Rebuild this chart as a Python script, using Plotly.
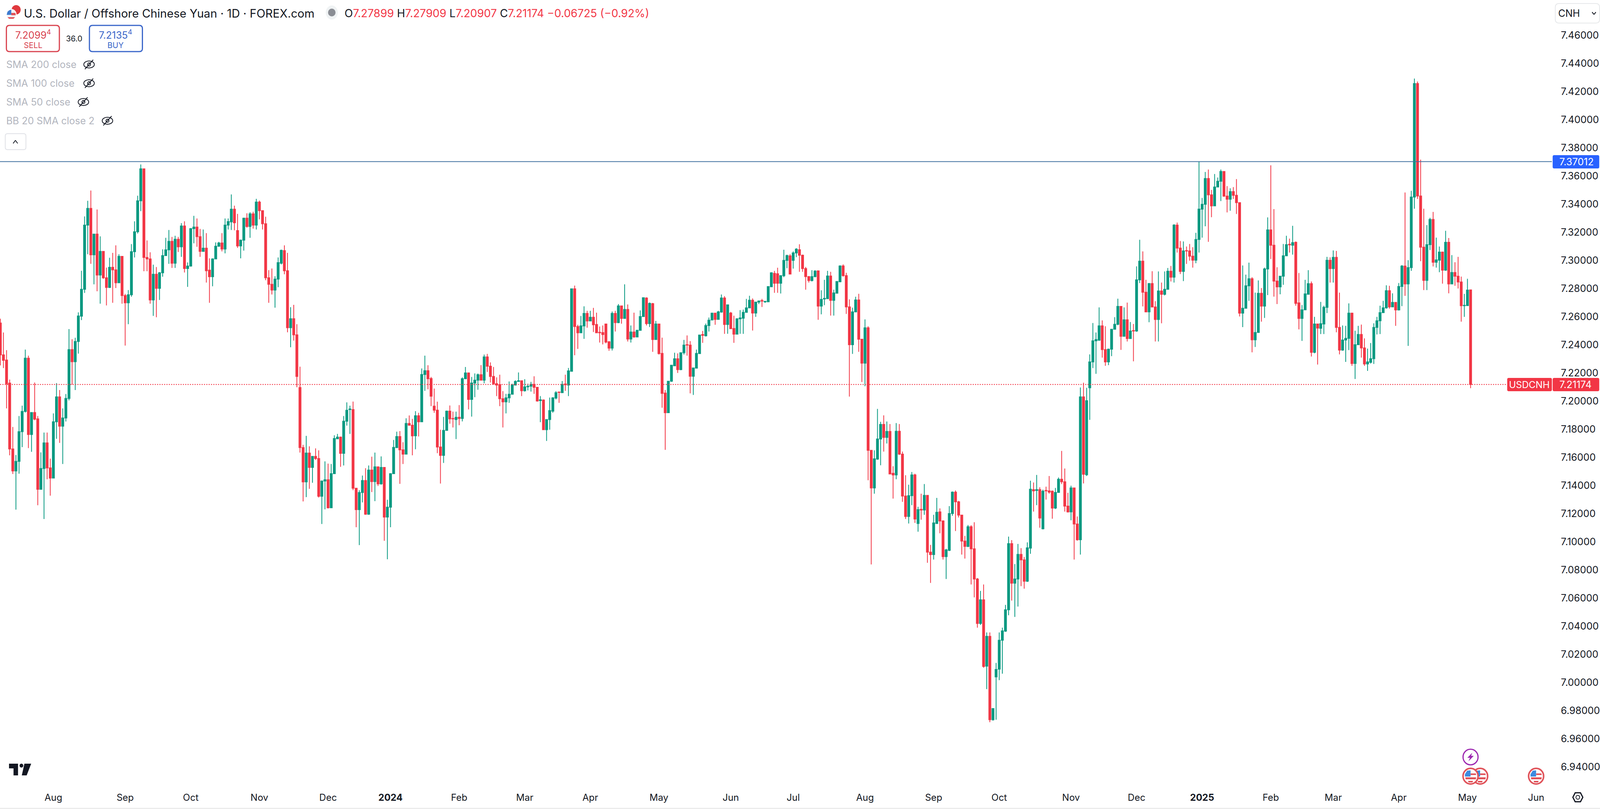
import plotly.graph_objects as go

W = 4258
H = 2070
PAGE_W = 4096  # the browser tops out at this width

# daily candles (USD/CNH, FOREX.com)
opens = [
7.2554,7.2328,7.2291,7.2127,7.1659,7.1503,7.1571,7.1782,7.1926,7.2304,
7.1762,7.1918,7.1873,7.1372,7.1520,7.1702,7.1524,7.1452,7.1852,7.2029,
7.1821,7.1879,7.2018,7.2365,7.2279,7.2423,7.2603,7.2794,7.3250,7.3369,
7.3039,7.3186,7.2895,7.3063,7.2876,7.2807,7.2950,7.2932,7.2840,7.3028,
7.2749,7.2698,7.2755,7.3061,7.3203,7.3423,7.3650,7.3020,7.3010,7.2718,
7.2901,7.2801,7.2911,7.3033,7.3074,7.3135,7.2979,7.3149,7.3096,7.3244,
7.2942,7.2959,7.3225,7.3236,7.3168,7.3063,7.3086,7.2930,7.2883,7.3010,
7.3100,7.3123,7.3080,7.3250,7.3273,7.3363,7.3211,7.3102,7.3143,7.3299,
7.3240,7.3330,7.3250,7.3414,7.3353,7.3260,7.2876,7.2829,7.2788,7.2866,
7.2979,7.3069,7.2926,7.2521,7.2585,7.2470,7.2096,7.1669,7.1425,7.1630,
7.1528,7.1606,7.1591,7.1323,7.1431,7.1440,7.1241,7.1483,7.1731,7.1743,
7.1628,7.1856,7.1939,7.1939,7.1380,7.1228,7.1349,7.1435,7.1195,7.1509,
7.1427,7.1532,7.1411,7.1528,7.1175,7.1245,7.1483,7.1669,7.1747,7.1653,
7.1622,7.1840,7.1828,7.1753,7.1895,7.1852,7.2188,7.2215,7.2160,7.1963,
7.1935,7.1673,7.1613,7.1791,7.1928,7.1876,7.1868,7.1884,7.1876,7.2158,
7.2199,7.2011,7.2128,7.2148,7.2187,7.2148,7.2313,7.2247,7.2174,7.2123,
7.2117,7.2016,7.1994,7.2022,7.2048,7.2113,7.2139,7.2144,7.2073,7.2101,
7.2105,7.2118,7.2097,7.2003,7.2007,7.1796,7.1868,7.1928,7.2021,7.2064,
7.2059,7.2121,7.2113,7.2211,7.2797,7.2529,7.2485,7.2533,7.2622,7.2569,
7.2595,7.2544,7.2488,7.2486,7.2547,7.2421,7.2376,7.2622,7.2557,7.2676,
7.2587,7.2651,7.2440,7.2490,7.2455,7.2502,7.2600,7.2732,7.2550,7.2692,
7.2437,7.2547,7.2338,7.2056,7.1917,7.2140,7.2250,7.2300,7.2223,7.2343,
7.2400,7.2397,7.2176,7.2233,7.2337,7.2472,7.2463,7.2536,7.2576,7.2624,
7.2580,7.2632,7.2732,7.2544,7.2625,7.2515,7.2475,7.2584,7.2588,7.2630,
7.2662,7.2716,7.2625,7.2703,7.2714,7.2705,7.2705,7.2812,7.2907,7.2904,
7.2837,7.2890,7.2999,7.3031,7.2999,7.3052,7.3075,7.3036,7.2941,7.2884,
7.2856,7.2884,7.2925,7.2674,7.2725,7.2727,7.2888,7.2715,7.2766,7.2847,
7.2960,7.2891,7.2669,7.2400,7.2633,7.2718,7.2439,7.2269,7.2520,7.1649,
7.1382,7.1587,7.1730,7.1833,7.1741,7.1783,7.1486,7.1474,7.1785,7.1622,
7.1324,7.1179,7.1327,7.1474,7.1129,7.1230,7.1225,7.1329,7.0926,7.0908,
7.1129,7.1212,7.1147,7.0894,7.0938,7.1200,7.1352,7.1283,7.1189,7.1004,
7.0967,7.1106,7.0949,7.0735,7.0419,7.0587,7.0115,7.0327,6.9735,7.0039,
7.0094,7.0299,7.0364,7.0516,7.0986,7.0705,7.0735,7.0910,7.0871,7.0719,
7.0954,7.1370,7.1364,7.1370,7.1092,7.1364,7.1361,7.1359,7.1239,7.1350,
7.1444,7.1426,7.1253,7.1212,7.1382,7.1126,7.1014,7.2029,7.1476,7.2094,
7.2278,7.2428,7.2432,7.2534,7.2365,7.2278,7.2368,7.2510,7.2545,7.2672,
7.2460,7.2577,7.2444,7.2501,7.2497,7.2861,7.2994,7.2773,7.2633,7.2835,
7.2668,7.2579,7.2782,7.2758,7.2794,7.2922,7.2880,7.3250,7.3087,7.2921,
7.3069,7.3067,7.3029,7.3001,7.3148,7.3363,7.3398,7.3581,7.3465,7.3387,
7.3521,7.3562,7.3631,7.3456,7.3434,7.3488,7.3462,7.3410,7.2624,7.2659,
7.2819,7.2869,7.2435,7.2487,7.2765,7.2674,7.2938,7.3216,7.3107,7.2852,
7.2811,7.2887,7.3032,7.3114,7.3107,7.3128,7.2697,7.2587,7.2648,7.2758,
7.2834,7.2346,7.2547,7.2517,7.2547,7.2665,7.3000,7.2941,7.3021,7.2523,
7.2362,7.2433,7.2445,7.2624,7.2267,7.2400,7.2473,7.2377,7.2263,7.2275,
7.2301,7.2523,7.2570,7.2628,7.2662,7.2784,7.2669,7.2701,7.2647,7.2814,
7.2959,7.2832,7.2948,7.3449,7.4256,7.3457,7.3093,7.2857,7.3111,7.3290,
7.2986,7.3001,7.3058,7.2930,7.3128,7.2832,7.2913,7.2887,7.2846,7.2677,
7.2678,7.27899]
highs = [
7.2585,7.2487,7.2361,7.2152,7.1815,7.1616,7.1893,7.1967,7.2365,7.2322,
7.1918,7.2131,7.1893,7.1635,7.1776,7.1776,7.1590,7.1912,7.2127,7.2078,
7.1947,7.2049,7.2511,7.2439,7.2449,7.2630,7.2926,7.3312,7.3423,7.3496,
7.3186,7.3361,7.3170,7.3063,7.2948,7.3018,7.3053,7.3106,7.3043,7.3028,
7.2761,7.2788,7.3115,7.3277,7.3459,7.3681,7.3650,7.3141,7.3057,7.2969,
7.2952,7.2917,7.3078,7.3160,7.3215,7.3166,7.3174,7.3166,7.3264,7.3277,
7.2985,7.3229,7.3316,7.3297,7.3223,7.3219,7.3193,7.3014,7.3014,7.3127,
7.3131,7.3193,7.3297,7.3297,7.3468,7.3388,7.3330,7.3147,7.3303,7.3334,
7.3342,7.3345,7.3437,7.3424,7.3355,7.3310,7.2930,7.2942,7.2887,7.3020,
7.3076,7.3106,7.3053,7.2667,7.2683,7.2546,7.2244,7.1688,7.1752,7.1678,
7.1606,7.1663,7.1649,7.1435,7.1571,7.1555,7.1552,7.1756,7.1766,7.1747,
7.1893,7.1990,7.1967,7.1996,7.1380,7.1366,7.1470,7.1522,7.1542,7.1604,
7.1633,7.1532,7.1606,7.1528,7.1298,7.1487,7.1723,7.1782,7.1786,7.1707,
7.1877,7.1897,7.1873,7.1928,7.1916,7.2231,7.2322,7.2254,7.2171,7.2088,
7.1995,7.1796,7.1887,7.1932,7.1968,7.1924,7.1924,7.1971,7.2168,7.2242,
7.2203,7.2171,7.2196,7.2195,7.2255,7.2330,7.2335,7.2274,7.2242,7.2168,
7.2187,7.2070,7.2051,7.2139,7.2123,7.2147,7.2203,7.2144,7.2155,7.2123,
7.2136,7.2176,7.2097,7.2035,7.2011,7.1868,7.2024,7.2027,7.2070,7.2064,
7.2142,7.2187,7.2235,7.2797,7.2820,7.2542,7.2604,7.2673,7.2641,7.2641,
7.2662,7.2628,7.2529,7.2537,7.2549,7.2426,7.2636,7.2641,7.2689,7.2676,
7.2829,7.2686,7.2537,7.2628,7.2506,7.2644,7.2737,7.2737,7.2700,7.2697,
7.2569,7.2547,7.2450,7.2078,7.2142,7.2255,7.2343,7.2338,7.2343,7.2434,
7.2466,7.2426,7.2235,7.2365,7.2469,7.2498,7.2550,7.2593,7.2628,7.2624,
7.2641,7.2757,7.2745,7.2683,7.2633,7.2606,7.2588,7.2646,7.2649,7.2726,
7.2748,7.2729,7.2705,7.2711,7.2726,7.2708,7.2813,7.2915,7.2925,7.2947,
7.2891,7.3075,7.3040,7.3044,7.3063,7.3086,7.3114,7.3040,7.2953,7.2888,
7.2930,7.2930,7.2925,7.2787,7.2861,7.2925,7.2918,7.2791,7.2849,7.2964,
7.2971,7.2911,7.2722,7.2663,7.2741,7.2762,7.2439,7.2580,7.2531,7.1649,
7.1649,7.1944,7.1852,7.1898,7.1854,7.1836,7.1536,7.1843,7.1836,7.1640,
7.1472,7.1405,7.1495,7.1483,7.1248,7.1341,7.1410,7.1329,7.0977,7.1191,
7.1311,7.1237,7.1152,7.0949,7.1253,7.1357,7.1364,7.1290,7.1191,7.1041,
7.1119,7.1117,7.1138,7.0742,7.0650,7.0696,7.0355,7.0355,6.9814,7.0138,
7.0355,7.0389,7.0551,7.1036,7.1011,7.0841,7.0984,7.0954,7.0891,7.0995,
7.1433,7.1421,7.1474,7.1387,7.1370,7.1391,7.1467,7.1364,7.1382,7.1456,
7.1645,7.1520,7.1347,7.1398,7.1382,7.1179,7.2096,7.2130,7.2094,7.2331,
7.2554,7.2487,7.2665,7.2573,7.2531,7.2372,7.2510,7.2596,7.2727,7.2672,
7.2665,7.2699,7.2561,7.2547,7.2957,7.3146,7.3063,7.2861,7.2838,7.2922,
7.2710,7.2921,7.2842,7.2921,7.2945,7.2960,7.3257,7.3268,7.3137,7.3134,
7.3098,7.3116,7.3093,7.3195,7.3701,7.3443,7.3628,7.3645,7.3500,7.3613,
7.3588,7.3645,7.3631,7.3527,7.3512,7.3520,7.3577,7.3410,7.2963,7.2898,
7.2983,7.2880,7.2770,7.2857,7.2803,7.2948,7.3305,7.3675,7.3364,7.2951,
7.2887,7.3116,7.3174,7.3154,7.3245,7.3134,7.2910,7.2682,7.2861,7.2930,
7.2849,7.2598,7.2547,7.2704,7.2677,7.3024,7.3021,7.3070,7.3067,7.2770,
7.2537,7.2534,7.2694,7.2628,7.2499,7.2534,7.2543,7.2445,7.2372,7.2412,
7.2552,7.2598,7.2677,7.2712,7.2822,7.2819,7.2765,7.2701,7.2838,7.2966,
7.3482,7.3001,7.3494,7.4292,7.4271,7.3715,7.3367,7.3250,7.3302,7.3344,
7.3161,7.3098,7.3062,7.3210,7.3158,7.3037,7.2986,7.3024,7.2884,7.2761,
7.2869,7.27909]
lows = [
7.2253,7.2234,7.1947,7.1614,7.1481,7.1228,7.1483,7.1672,7.1918,7.1665,
7.1639,7.1863,7.1259,7.1370,7.1161,7.1444,7.1327,7.1450,7.1731,7.1702,
7.1552,7.1854,7.2004,7.2117,7.2078,7.2337,7.2575,7.2768,7.3043,7.2975,
7.2829,7.2780,7.2692,7.2868,7.2679,7.2803,7.2698,7.2803,7.2838,7.2692,
7.2394,7.2546,7.2741,7.3020,7.3190,7.3349,7.2922,7.2922,7.2692,7.2605,
7.2595,7.2718,7.2883,7.3033,7.2975,7.2946,7.2946,7.3059,7.3024,7.2913,
7.2811,7.2955,7.3121,7.3096,7.3024,7.3063,7.2842,7.2698,7.2815,7.3008,
7.3096,7.3063,7.3049,7.3219,7.3215,7.3213,7.3088,7.3014,7.3069,7.3232,
7.3160,7.3225,7.3219,7.3291,7.3219,7.2858,7.2698,7.2757,7.2663,7.2809,
7.2971,7.2901,7.2488,7.2382,7.2429,7.2098,7.1633,7.1286,7.1317,7.1376,
7.1419,7.1581,7.1314,7.1126,7.1230,7.1236,7.1239,7.1481,7.1731,7.1532,
7.1542,7.1825,7.1766,7.1366,7.1103,7.0976,7.1279,7.1191,7.1191,7.1353,
7.1288,7.1396,7.1405,7.1006,7.0875,7.1103,7.1481,7.1665,7.1411,7.1552,
7.1620,7.1824,7.1614,7.1657,7.1748,7.1852,7.2072,7.2083,7.1963,7.1916,
7.1629,7.1413,7.1560,7.1788,7.1839,7.1812,7.1729,7.1828,7.1855,7.2155,
7.1940,7.1889,7.2027,7.2080,7.2147,7.2126,7.2206,7.2131,7.2115,7.2035,
7.1963,7.1812,7.1912,7.1987,7.2046,7.2110,7.2139,7.2035,7.2067,7.2075,
7.2067,7.2051,7.1995,7.1849,7.1796,7.1716,7.1796,7.1916,7.2011,7.1987,
7.2056,7.2072,7.2035,7.2211,7.2325,7.2370,7.2482,7.2442,7.2521,7.2569,
7.2490,7.2482,7.2415,7.2402,7.2410,7.2357,7.2359,7.2494,7.2553,7.2549,
7.2585,7.2423,7.2415,7.2450,7.2455,7.2501,7.2598,7.2537,7.2526,7.2349,
7.2434,7.2330,7.1952,7.1653,7.1916,7.2136,7.2247,7.2199,7.2219,7.2330,
7.2322,7.2054,7.2043,7.2231,7.2335,7.2413,7.2458,7.2494,7.2574,7.2542,
7.2577,7.2628,7.2477,7.2478,7.2514,7.2413,7.2474,7.2478,7.2477,7.2628,
7.2660,7.2501,7.2598,7.2689,7.2668,7.2697,7.2705,7.2812,7.2769,7.2769,
7.2764,7.2880,7.2944,7.2899,7.2941,7.3022,7.2918,7.2918,7.2791,7.2842,
7.2849,7.2879,7.2577,7.2616,7.2681,7.2727,7.2607,7.2607,7.2764,7.2844,
7.2884,7.2619,7.2031,7.2335,7.2630,7.2349,7.2135,7.2105,7.1437,7.0838,
7.1341,7.1582,7.1543,7.1640,7.1698,7.1479,7.1306,7.1444,7.1617,7.1283,
7.1161,7.1129,7.1260,7.1133,7.1071,7.1156,7.1191,7.0850,7.0707,7.0873,
7.1126,7.1060,7.0873,7.0735,7.0933,7.1184,7.1076,7.1172,7.0908,7.0880,
7.0961,7.0696,7.0604,7.0389,7.0408,7.0104,6.9952,6.9717,6.9728,6.9735,
7.0016,7.0062,7.0359,7.0477,7.0581,7.0465,7.0539,7.0684,7.0666,7.0714,
7.0914,7.1214,7.1260,7.1099,7.1087,7.1299,7.1341,7.1163,7.1232,7.1347,
7.1410,7.1214,7.1207,7.1152,7.0873,7.1007,7.0908,7.1414,7.1467,7.1866,
7.2234,7.2193,7.2428,7.2308,7.2250,7.2255,7.2319,7.2508,7.2538,7.2363,
7.2458,7.2423,7.2441,7.2282,7.2492,7.2838,7.2672,7.2630,7.2560,7.2668,
7.2423,7.2423,7.2552,7.2750,7.2793,7.2849,7.2842,7.3055,7.2902,7.2852,
7.2974,7.2997,7.2948,7.2979,7.3055,7.3161,7.3242,7.3131,7.3306,7.3387,
7.3520,7.3421,7.3451,7.3340,7.3352,7.3436,7.3329,7.2601,7.2525,7.2659,
7.2712,7.2346,7.2384,7.2487,7.2564,7.2590,7.2753,7.3009,7.2742,7.2689,
7.2758,7.2826,7.3032,7.3055,7.3040,7.2677,7.2509,7.2427,7.2647,7.2758,
7.2316,7.2339,7.2259,7.2476,7.2476,7.2625,7.2842,7.2842,7.2488,7.2331,
7.2357,7.2278,7.2362,7.2250,7.2156,7.2397,7.2308,7.2250,7.2214,7.2266,
7.2263,7.2473,7.2476,7.2625,7.2656,7.2656,7.2666,7.2534,7.2643,7.2674,
7.2747,7.2392,7.2925,7.3367,7.3436,7.2994,7.2788,7.2788,7.3073,7.2956,
7.2948,7.2915,7.2834,7.2925,7.2765,7.2829,7.2819,7.2799,7.2564,7.2598,
7.2677,7.20907]
closes = [
7.2328,7.2289,7.2123,7.1659,7.1503,7.1571,7.1782,7.1926,7.2304,7.1762,
7.1918,7.1871,7.1372,7.1520,7.1702,7.1524,7.1452,7.1852,7.2029,7.1821,
7.1879,7.2018,7.2365,7.2279,7.2423,7.2604,7.2794,7.3250,7.3369,7.3039,
7.3186,7.2895,7.3063,7.2876,7.2807,7.2950,7.2932,7.2840,7.3028,7.2749,
7.2698,7.2755,7.3061,7.3203,7.3423,7.3650,7.3020,7.3010,7.2718,7.2901,
7.2801,7.2911,7.3033,7.3074,7.3135,7.2979,7.3149,7.3096,7.3244,7.2942,
7.2959,7.3225,7.3236,7.3168,7.3063,7.3086,7.2926,7.2883,7.3010,7.3100,
7.3123,7.3080,7.3250,7.3275,7.3363,7.3267,7.3102,7.3143,7.3299,7.3240,
7.3330,7.3250,7.3414,7.3353,7.3260,7.2876,7.2829,7.2788,7.2866,7.2983,
7.3071,7.2926,7.2521,7.2585,7.2470,7.2174,7.1669,7.1425,7.1630,7.1528,
7.1606,7.1591,7.1323,7.1431,7.1440,7.1241,7.1483,7.1733,7.1743,7.1628,
7.1856,7.1934,7.1943,7.1380,7.1228,7.1349,7.1435,7.1195,7.1509,7.1427,
7.1532,7.1411,7.1528,7.1175,7.1245,7.1483,7.1670,7.1747,7.1653,7.1622,
7.1840,7.1828,7.1752,7.1895,7.1852,7.2188,7.2215,7.2158,7.2034,7.1935,
7.1673,7.1613,7.1791,7.1928,7.1873,7.1873,7.1884,7.1876,7.2158,7.2199,
7.2011,7.2128,7.2148,7.2187,7.2148,7.2313,7.2247,7.2174,7.2123,7.2113,
7.2016,7.1994,7.2022,7.2048,7.2113,7.2139,7.2144,7.2073,7.2101,7.2105,
7.2118,7.2097,7.2000,7.2008,7.1796,7.1868,7.1932,7.2022,7.2059,7.2061,
7.2118,7.2115,7.2214,7.2797,7.2529,7.2485,7.2534,7.2622,7.2569,7.2595,
7.2542,7.2485,7.2485,7.2472,7.2419,7.2376,7.2622,7.2557,7.2676,7.2587,
7.2651,7.2440,7.2490,7.2455,7.2502,7.2600,7.2734,7.2550,7.2694,7.2437,
7.2547,7.2337,7.2054,7.1917,7.2140,7.2254,7.2300,7.2223,7.2343,7.2397,
7.2397,7.2176,7.2235,7.2338,7.2469,7.2467,7.2536,7.2574,7.2624,7.2580,
7.2633,7.2732,7.2544,7.2683,7.2514,7.2475,7.2584,7.2590,7.2630,7.2662,
7.2716,7.2625,7.2703,7.2711,7.2710,7.2708,7.2813,7.2911,7.2837,7.2837,
7.2891,7.2999,7.3033,7.2902,7.3052,7.3079,7.3036,7.2941,7.2884,7.2856,
7.2884,7.2923,7.2674,7.2722,7.2729,7.2888,7.2715,7.2768,7.2849,7.2960,
7.2891,7.2669,7.2400,7.2633,7.2718,7.2439,7.2269,7.2520,7.1649,7.1382,
7.1589,7.1730,7.1833,7.1741,7.1783,7.1481,7.1474,7.1785,7.1622,7.1324,
7.1179,7.1327,7.1474,7.1161,7.1228,7.1225,7.1329,7.0926,7.0908,7.1133,
7.1209,7.1147,7.0894,7.0942,7.1200,7.1352,7.1283,7.1189,7.1004,7.0967,
7.1106,7.0949,7.0735,7.0419,7.0587,7.0113,7.0327,6.9735,6.9814,7.0092,
7.0299,7.0366,7.0516,7.0986,7.0705,7.0735,7.0910,7.0871,7.0719,7.0956,
7.1373,7.1361,7.1370,7.1168,7.1359,7.1361,7.1352,7.1239,7.1350,7.1444,
7.1426,7.1253,7.1212,7.1382,7.1126,7.1014,7.2029,7.1479,7.2002,7.2278,
7.2428,7.2437,7.2534,7.2365,7.2278,7.2368,7.2510,7.2545,7.2672,7.2460,
7.2577,7.2444,7.2497,7.2497,7.2861,7.2994,7.2773,7.2633,7.2835,7.2668,
7.2579,7.2782,7.2758,7.2794,7.2922,7.2880,7.3250,7.3087,7.2921,7.3067,
7.3066,7.3029,7.3001,7.3148,7.3364,7.3398,7.3581,7.3465,7.3387,7.3521,
7.3562,7.3631,7.3456,7.3434,7.3488,7.3462,7.3410,7.2624,7.2659,7.2819,
7.2869,7.2435,7.2487,7.2765,7.2674,7.2939,7.3216,7.3107,7.2852,7.2811,
7.2887,7.3032,7.3111,7.3110,7.3126,7.2694,7.2587,7.2648,7.2761,7.2834,
7.2346,7.2547,7.2518,7.2549,7.2666,7.3000,7.2941,7.3021,7.2523,7.2362,
7.2433,7.2445,7.2624,7.2267,7.2400,7.2473,7.2377,7.2263,7.2278,7.2301,
7.2523,7.2570,7.2628,7.2662,7.2784,7.2669,7.2701,7.2647,7.2814,7.2959,
7.2832,7.2948,7.3449,7.4256,7.3457,7.3093,7.2857,7.3111,7.3290,7.2986,
7.3003,7.3058,7.2930,7.3128,7.2832,7.2913,7.2887,7.2846,7.2677,7.2680,
7.2788,7.21174]
bars = list(range(len(closes)))
assert len(opens) == len(highs) == len(lows) == len(closes), (len(opens), len(highs), len(lows), len(closes))

price_ticks = [6.94,6.96,6.98,7.00,7.02,7.04,7.06,7.08,7.10,7.12,7.14,7.16,7.18,7.20,7.22,7.24,7.26,7.28,7.30,7.32,7.34,7.36,7.38,7.40,7.42,7.44,7.46]
month_bars = [17,40,61,83,105,125,147,168,189,211,234,254,277,299,320,343,364,385,407,427,448,470,492]
month_labels = ["Aug","Sep","Oct","Nov","Dec","<b>2024</b>","Feb","Mar","Apr","May","Jun","Jul","Aug","Sep","Oct","Nov","Dec","<b>2025</b>","Feb","Mar","Apr","May","Jun"]
level_price = 7.37012

UP = "#089981"
DOWN = "#F23645"
INK = "#131722"
GREY = "#b2b5be"
BLUE = "#2962FF"
SELL = "#d9434f"
BUY = "#3a66c9"
FONT = "Inter"


def px(x):
    return x / W


def py(y):
    return 1 - y / H


def poly(points):
    return "M" + " L".join(f"{px(x)},{py(y)}" for x, y in points) + " Z"


def rrect(x0, y0, x1, y1, r):
    return (f"M{px(x0+r)},{py(y0)} L{px(x1-r)},{py(y0)} Q{px(x1)},{py(y0)} {px(x1)},{py(y0+r)} "
            f"L{px(x1)},{py(y1-r)} Q{px(x1)},{py(y1)} {px(x1-r)},{py(y1)} "
            f"L{px(x0+r)},{py(y1)} Q{px(x0)},{py(y1)} {px(x0)},{py(y1-r)} "
            f"L{px(x0)},{py(y0+r)} Q{px(x0)},{py(y0)} {px(x0+r)},{py(y0)} Z")


shapes = []
annos = []


def box(x0, y0, x1, y1, r, fill="rgba(0,0,0,0)", line=None, lw=2):
    shapes.append(dict(type="path", xref="paper", yref="paper", path=rrect(x0, y0, x1, y1, r),
                       fillcolor=fill, line=dict(color=line or fill, width=lw if line else 0)))


def circle(cx, cy, rx, ry=None, fill="rgba(0,0,0,0)", line=None, lw=2):
    ry = ry or rx
    shapes.append(dict(type="circle", xref="paper", yref="paper",
                       x0=px(cx-rx), x1=px(cx+rx), y0=py(cy+ry), y1=py(cy-ry),
                       fillcolor=fill, line=dict(color=line or fill, width=lw if line else 0)))


def segment(x0, y0, x1, y1, color=INK, lw=2):
    shapes.append(dict(type="line", xref="paper", yref="paper",
                       x0=px(x0), x1=px(x1), y0=py(y0), y1=py(y1), line=dict(color=color, width=lw)))


def fill_poly(points, color):
    shapes.append(dict(type="path", xref="paper", yref="paper", path=poly(points),
                       fillcolor=color, line=dict(width=0)))


def text(x, y, s, size=26, color=INK, anchor="left"):
    annos.append(dict(xref="paper", yref="paper", x=px(x), y=py(y), text=s, showarrow=False,
                      xanchor=anchor, yanchor="middle", borderpad=0, borderwidth=0,
                      font=dict(family=FONT, size=size, color=color)))


def us_coin(cx, cy):
    circle(cx, cy, 20, fill="white", line="#e0535a", lw=4)
    fill_poly([(cx-14, cy+3), (cx+15, cy+3), (cx+14, cy+8), (cx-13, cy+8)], "#e0535a")
    fill_poly([(cx-7, cy+12), (cx+7, cy+12), (cx+5, cy+16), (cx-5, cy+16)], "#e0535a")
    fill_poly([(cx, cy-7), (cx+14, cy-7), (cx+15, cy-3), (cx, cy-3)], "#e0535a")
    fill_poly([(cx-15, cy-5), (cx-9, cy-14), (cx, cy-15), (cx, cy+1), (cx-15, cy+1)], "#3d8be0")


def eye_off(cx, cy):
    circle(cx, cy, 14, 9, line=INK, lw=2)
    circle(cx, cy, 4, line=INK, lw=2)
    segment(cx-11, cy+12, cx+11, cy-12, INK, 2)


# levels on the price scale
shapes.append(dict(type="line", xref="paper", yref="y", x0=0, x1=px(4130), y0=level_price, y1=level_price,
                   line=dict(color="#3f6f9f", width=2)))
shapes.append(dict(type="line", xref="paper", yref="y", x0=0, x1=px(4010), y0=closes[-1], y1=closes[-1],
                   line=dict(color=DOWN, width=2, dash="dot")))

# header
circle(43, 25, 12, fill="#e0393e")
circle(30, 37, 14, fill="white")
circle(30, 37, 12, fill="#f2f2f6")
fill_poly([(18, 37), (20, 30), (25, 26), (30, 25), (30, 38), (18, 38)], "#3d7bd0")
fill_poly([(30, 33), (41, 33), (42, 39), (30, 39)], "#e0535a")
fill_poly([(20, 44), (40, 44), (36, 48), (24, 48)], "#e0535a")
text(63, 34, "U.S. Dollar / Offshore Chinese Yuan · 1D · FOREX.com", 29.5)
circle(883, 32, 16, 18, fill="#f0f3f4")
circle(883, 32, 10, fill="#8a8d94")


def red(s):
    return f'<span style="color:{DOWN}">{s}</span>'


text(917, 34, f"O{red('7.27899')} H{red('7.27909')} L{red('7.20907')} C{red('7.21174')} {red('−0.06725 (−0.92%)')}", 28)

# sell / buy
box(17, 65, 158, 132, 8, line=SELL, lw=3)
box(238, 65, 379, 132, 8, line=BUY, lw=3)
text(88, 88, "7.2099<sup>4</sup>", 25, SELL, "center")
text(88, 116, "SELL", 20, SELL, "center")
text(308, 88, "7.2135<sup>4</sup>", 25, BUY, "center")
text(308, 116, "BUY", 20, BUY, "center")
text(198, 99, "36.0", 20, INK, "center")

# hidden indicators
text(17, 165, "SMA 200 close", 25, GREY)
text(17, 213, "SMA 100 close", 25, GREY)
text(17, 261, "SMA 50 close", 25, GREY)
text(17, 309, "BB 20 SMA close 2", 25, GREY)
eye_off(237, 165)
eye_off(237, 213)
eye_off(222, 261)
eye_off(286, 309)
box(14, 342, 69, 383, 6, line="#dfe1e6", lw=2)
segment(35, 367, 41, 359, INK, 2)
segment(41, 359, 47, 367, INK, 2)

# right scale labels
box(4139, 9, 4257, 59, 10, line="#e6e8ea", lw=2)
text(4147, 34, "CNH", 25)
segment(4237, 31, 4242, 37, INK, 2)
segment(4242, 37, 4247, 31, INK, 2)
box(4132, 397, 4256, 431, 4, fill=BLUE)
annos.append(dict(xref="paper", yref="y", x=px(4148), y=level_price, text="7.37012", showarrow=False,
                  xanchor="left", yanchor="middle", font=dict(family=FONT, size=25, color="white")))
box(4011, 967, 4130, 1001, 4, fill=DOWN)
box(4132, 967, 4256, 1001, 4, fill=DOWN)
text(4070, 984, "USDCNH", 24, "white", "center")
annos.append(dict(xref="paper", yref="y", x=px(4148), y=closes[-1], text="7.21174", showarrow=False,
                  xanchor="left", yanchor="middle", font=dict(family=FONT, size=25, color="white")))

# logo
fill_poly([(24, 1954), (48, 1954), (48, 1984), (36, 1984), (36, 1966), (24, 1966)], INK)
circle(57, 1959, 5, fill=INK)
fill_poly([(65, 1954), (83, 1954), (71, 1984), (58, 1984)], INK)

# events
circle(3913.5, 1937, 20, line="#9c27b0", lw=3)
fill_poly([(3918, 1926), (3905, 1939), (3912, 1939), (3908, 1948), (3922, 1934), (3915, 1934)], "#9c27b0")
us_coin(3939, 1986)
us_coin(3913.5, 1986)
us_coin(4088, 1986)

# settings
fill_poly([(4184, 2040), (4191, 2027), (4207, 2027), (4214, 2040), (4207, 2053), (4191, 2053)], INK)
fill_poly([(4187.5, 2040), (4193, 2030), (4205, 2030), (4210.5, 2040), (4205, 2050), (4193, 2050)], "white")
circle(4199, 2040, 5, line=INK, lw=2)

# bottom border
shapes.append(dict(type="rect", xref="paper", yref="paper", x0=0, x1=1, y0=0, y1=py(2067),
                   fillcolor="#ececec", line=dict(width=0)))

fig = go.Figure(go.Candlestick(
    x=bars, open=opens, high=highs, low=lows, close=closes,
    increasing=dict(line=dict(color=UP, width=2), fillcolor=UP),
    decreasing=dict(line=dict(color=DOWN, width=2), fillcolor=DOWN),
    whiskerwidth=0,
    showlegend=False,
))

# 3600 px per 1.0 of price, 7.46 sits 90 px from the top
fig.update_layout(
    width=PAGE_W, height=H, autosize=False,
    margin=dict(l=0, r=0, t=0, b=0),
    paper_bgcolor="white", plot_bgcolor="white",
    boxmode="overlay", boxgap=0.2, boxgroupgap=0.2,
    shapes=shapes, annotations=annos,
    hovermode=False,
    font=dict(family=FONT, size=25, color=INK),
)
fig.update_xaxes(
    domain=[0, 4130 / W], range=[-0.1, 4130 / 8.309],
    rangeslider_visible=False, showgrid=False, zeroline=False, showline=False,
    tickmode="array", tickvals=month_bars, ticktext=month_labels,
    ticks="outside", ticklen=9, tickcolor="rgba(0,0,0,0)", tickangle=0,
    tickfont=dict(family=FONT, size=24, color=INK),
)
fig.update_yaxes(
    domain=[60 / H, 1], range=[7.485 - 2010 / 3600, 7.485],
    side="right", showgrid=False, zeroline=False, showline=False,
    tickmode="array", tickvals=price_ticks, tickformat=".5f",
    ticks="outside", ticklen=17, tickcolor="rgba(0,0,0,0)",
    tickfont=dict(family=FONT, size=25, color=INK),
)

fig.write_html("out.html", config={"displayModeBar": False}, post_script="document.body.style.margin='0';")
